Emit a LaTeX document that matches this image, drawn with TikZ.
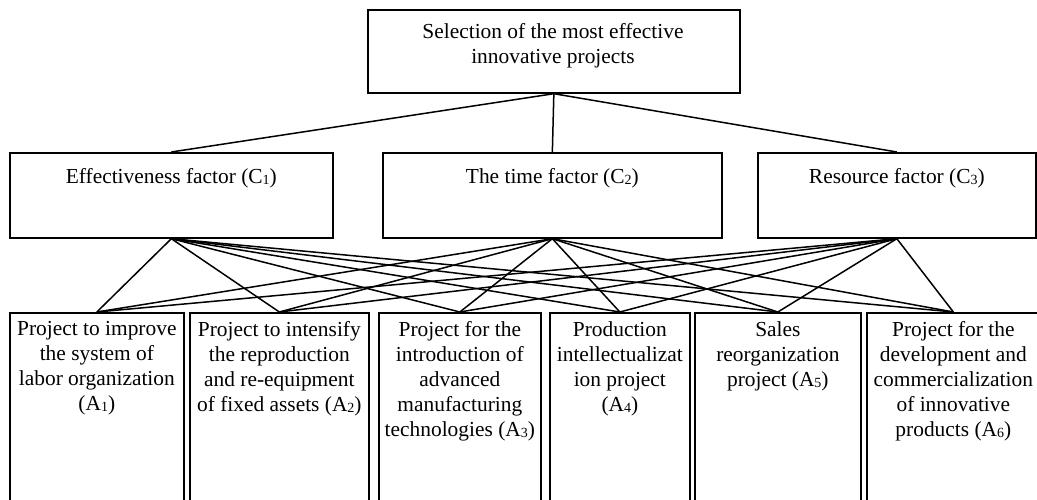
\documentclass[tikz,border=0pt]{standalone}
\usepackage{fontspec}
\setmainfont{Liberation Serif}
\newcommand\ix[1]{\raisebox{-1pt}{\fontsize{14}{14}\selectfont #1}}
\tikzset{
  box/.style={draw, line width=1.7pt, rectangle, inner sep=0pt, anchor=north west},
  txt/.style={anchor=north, inner sep=0pt, align=center,
    font=\fontsize{21.4}{25}\selectfont, execute at begin node=\strut},
  link/.style={line width=1.5pt},
}
\begin{document}
\begin{tikzpicture}[x=1pt,y=-1pt]
\useasboundingbox (0,0) rectangle (1037,500);
\clip (0,0) rectangle (1037,500);

% goal
\node[box, minimum width=372pt, minimum height=83pt] (goal) at (367,9) {};
\node[txt] (tgoal) at (553,23.5) {Selection of the most effective\\innovative projects};

% criteria
\node[box, minimum width=323pt, minimum height=85pt] (c1) at (9,152) {};
\node[box, minimum width=339pt, minimum height=85pt] (c2) at (382,152) {};
\node[box, minimum width=278pt, minimum height=85pt] (c3) at (757,152) {};
\node[txt] (tc1) at (c1.north |- 0,166) {Effectiveness factor (C\ix{1})};
\node[txt] (tc2) at (c2.north |- 0,166) {The time factor (C\ix{2})};
\node[txt] (tc3) at (c3.north |- 0,166) {Resource factor (C\ix{3})};

% alternatives (open towards the bottom edge)
\node[box, minimum width=174pt, minimum height=220pt] (a1) at (9,312) {};
\node[box, minimum width=179pt, minimum height=220pt] (a2) at (189,312) {};
\node[box, minimum width=162pt, minimum height=220pt] (a3) at (378,312) {};
\node[box, minimum width=140pt, minimum height=220pt] (a4) at (549,312) {};
\node[box, minimum width=166pt, minimum height=220pt] (a5) at (694,312) {};
\node[box, minimum width=173pt, minimum height=220pt] (a6) at (866,312) {};

\node[txt] (ta1) at (a1.north |- 0,321) {Project to improve\\the system of\\labor organization\\(A\ix{1})};
\node[txt] (ta2) at (a2.north |- 0,321) {Project to intensify\\the reproduction\\and re-equipment\\of fixed assets (A\ix{2})};
\node[txt] (ta3) at (a3.north |- 0,321) {Project for the\\introduction of\\advanced\\manufacturing\\technologies (A\ix{3})};
\node[txt] (ta4) at (a4.north |- 0,321) {Production\\intellectualizat\\ion project\\(A\ix{4})};
\node[txt] (ta5) at (a5.north |- 0,321) {Sales\\reorganization\\project (A\ix{5})};
\node[txt] (ta6) at (a6.north |- 0,321) {Project for the\\development and\\commercialization\\of innovative\\products (A\ix{6})};

% goal to criteria
\foreach \c in {c1,c2,c3}
  \draw[link] (goal.south) -- (\c.north);

% criteria to alternatives
\foreach \c in {c1,c2,c3}
  \foreach \a in {a1,a2,a3,a4,a5,a6}
    \draw[link] (\c.south) -- (\a.north);
\end{tikzpicture}
\end{document}
